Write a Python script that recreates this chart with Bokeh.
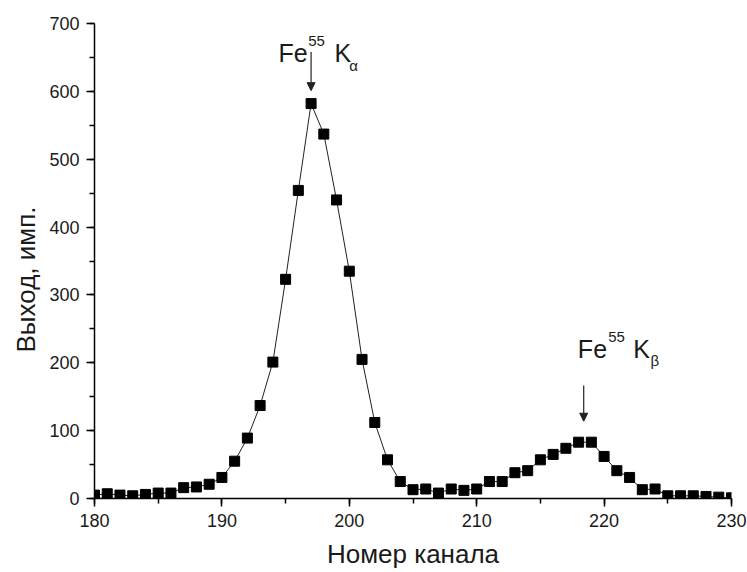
from bokeh.plotting import figure
from bokeh.models import Range1d, SingleIntervalTicker, Label, Arrow, NormalHead, Title
from bokeh.embed import file_html
from bokeh.resources import INLINE

# Data
channels = list(range(180, 231))
counts = [5, 7, 5, 4, 6, 8, 8, 16, 17, 21,
          31, 55, 89, 137, 201, 323, 454, 582, 537, 440,
          335, 205, 112, 57, 25, 13, 14, 8, 14, 12,
          14, 25, 25, 38, 41, 57, 65, 74, 83, 83,
          62, 41, 31, 13, 14, 4, 4, 4, 3, 2,
          1]

x_label = "Номер канала"
y_label = "Выход, имп."

FONT = "Liberation Sans"

p = figure(width=747, height=572, x_range=Range1d(180, 230), y_range=Range1d(0, 700),
           output_backend="svg", toolbar_location=None,
           min_border_left=94, min_border_right=16, min_border_top=23, min_border_bottom=74)

p.xgrid.visible = False
p.ygrid.visible = False
p.outline_line_color = None
p.background_fill_color = "white"
p.border_fill_color = "white"

p.line(channels, counts, line_color="#222222", line_width=1)
p.scatter(channels, counts, marker="square", size=10, fill_color="black", line_color="black")

p.xaxis.ticker = SingleIntervalTicker(interval=10, num_minor_ticks=2)
p.yaxis.ticker = SingleIntervalTicker(interval=100, num_minor_ticks=2)
p.xaxis.axis_label = x_label

for ax in (p.xaxis[0], p.yaxis[0]):
    ax.axis_line_width = 1.5
    ax.axis_line_color = "black"
    ax.major_tick_line_width = 1.5
    ax.minor_tick_line_width = 1.5
    ax.major_tick_out = 8
    ax.major_tick_in = 0
    ax.minor_tick_out = 5
    ax.minor_tick_in = 0
    ax.major_label_text_font = FONT
    ax.major_label_text_font_size = "18px"
    ax.major_label_text_color = "#1a1a1a"
    ax.major_label_standoff = 7
    ax.axis_label_text_font = FONT
    ax.axis_label_text_font_size = "26px"
    ax.axis_label_text_font_style = "normal"
    ax.axis_label_text_color = "#1a1a1a"
    ax.axis_label_standoff = 9

# y-axis title, placed slightly below the frame centre as in the reference
p.add_layout(Title(text=y_label, align="left", offset=146, standoff=12,
                   text_font=FONT, text_font_size="26px", text_font_style="normal",
                   text_color="#1a1a1a"), "left")

def lab(x, y, text, size):
    p.add_layout(Label(x=x, y=y, text=text, text_font=FONT, text_font_size=size,
                       text_color="#1a1a1a", text_baseline="alphabetic", text_align="left"))

# K-alpha annotation
lab(194.44, 655.8, "Fe", "25px")
lab(196.77, 674, "55", "15px")
lab(198.84, 655.8, "K", "25px")
lab(200.0, 638, "α", "15px")
p.add_layout(Arrow(end=NormalHead(size=8, fill_color="#222222", line_color="#222222"),
                   x_start=197, y_start=658, x_end=197, y_end=601,
                   line_color="#222222", line_width=1.2))

# K-beta annotation
lab(217.94, 219.6, "Fe", "25px")
lab(220.32, 238.7, "55", "15px")
lab(222.28, 219.6, "K", "25px")
lab(223.64, 203, "β", "15px")
p.add_layout(Arrow(end=NormalHead(size=8, fill_color="#222222", line_color="#222222"),
                   x_start=218.4, y_start=166.5, x_end=218.4, y_end=113.9,
                   line_color="#222222", line_width=1.2))

open("out.html", "w").write(file_html(p, INLINE))
